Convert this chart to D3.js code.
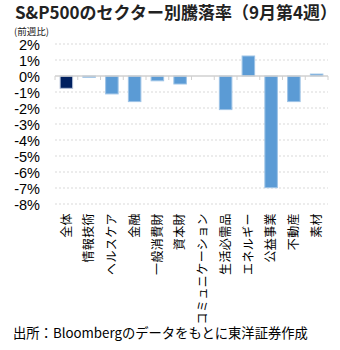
<!DOCTYPE html>
<html><head><meta charset="utf-8">
<script src="https://cdn.jsdelivr.net/npm/d3@7"></script>
<style>
html,body{margin:0;padding:0;background:#fff;}
svg{display:block;}
</style>
</head><body>
<svg id="c" width="340" height="350"></svg>
<script>
const categories = ["全体","情報技術","ヘルスケア","金融","一般消費財","資本財","コミュニケーション","生活必需品","エネルギー","公益事業","不動産","素材"];
const values = [-0.77, -0.08, -1.12, -1.6, -0.3, -0.5, 0.0, -2.1, 1.25, -6.98, -1.6, 0.12];
const tickValues = [2,1,0,-1,-2,-3,-4,-5,-6,-7,-8];
const tickLabels = ["2%","1%","0%","-1%","-2%","-3%","-4%","-5%","-6%","-7%","-8%"];
const title = "S&P500のセクター別騰落率（9月第4週）";
const subtitle = "(前週比)";
const source = "出所：Bloombergのデータをもとに東洋証券作成";

const svg = d3.select("#c");
const jp = "'Noto Sans CJK JP','Noto Sans',sans-serif";

const y = d3.scaleLinear().domain([-8, 2]).range([204, 44]);
const x = d3.scaleBand().domain(categories).range([55, 328]).paddingInner(0.45).paddingOuter(0.225);

// title
svg.append("text").attr("x", 15).attr("y", 18.5)
  .attr("font-family", jp).attr("font-weight", "bold").attr("font-size", 17)
  .attr("fill", "#222").text(title);
svg.append("text").attr("x", 14).attr("y", 34.5)
  .attr("font-family", jp).attr("font-size", 9.5)
  .attr("fill", "#222").text(subtitle);

// gridlines
svg.append("g").selectAll("line").data(tickValues.filter(v => v !== 0)).join("line")
  .attr("x1", 55).attr("x2", 328)
  .attr("y1", d => y(d)).attr("y2", d => y(d))
  .attr("stroke", "#d9d9d9").attr("stroke-width", 1).attr("stroke-dasharray", "2,2");

// y labels
const yAxis = d3.axisLeft(y).tickValues(tickValues).tickSize(0).tickPadding(0)
  .tickFormat((d, i) => tickLabels[i]);
const ya = svg.append("g").attr("transform", "translate(40,0)").call(yAxis);
ya.select(".domain").remove();
ya.selectAll("text").attr("font-family", "'Liberation Sans',Arial,sans-serif")
  .attr("font-size", 14.5).attr("fill", "#000").attr("dy", "0.4em");

// bars
svg.append("g").selectAll("rect").data(values).join("rect")
  .attr("x", (d, i) => x(categories[i]))
  .attr("width", x.bandwidth())
  .attr("y", d => y(Math.max(0, d)))
  .attr("height", d => Math.abs(y(d) - y(0)))
  .attr("fill", (d, i) => i === 0 ? "#002060" : "#5b9bd5")
  .attr("stroke", (d, i) => i === 0 ? "#b4c0d8" : "#9dc3e6")
  .attr("stroke-width", d => d === 0 ? 0 : 1);

// zero line
svg.append("line").attr("x1", 55).attr("x2", 328)
  .attr("y1", y(0)).attr("y2", y(0))
  .attr("stroke", "#d0d0d0").attr("stroke-width", 1.5);

// category ticks at band edges
const edges = categories.map(c => x(c) - x.step() * x.paddingInner() / 2);
edges.push(328);
edges[0] = 55;
svg.append("g").selectAll("line").data(edges).join("line")
  .attr("x1", d => d).attr("x2", d => d)
  .attr("y1", y(0)).attr("y2", y(0) + 4)
  .attr("stroke", "#d0d0d0").attr("stroke-width", 1);

// category labels
svg.append("g").selectAll("text").data(categories).join("text")
  .attr("transform", d => `translate(${x(d) + x.bandwidth() / 2},213) rotate(-90)`)
  .attr("text-anchor", "end").attr("dy", "0.36em")
  .attr("font-family", jp).attr("font-size", 12).attr("letter-spacing", 0.4)
  .attr("fill", "#000")
  .text(d => d);

// source
svg.append("text").attr("x", 13).attr("y", 338)
  .attr("font-family", jp).attr("font-size", 13.3).attr("fill", "#000")
  .text(source);
</script>
</body></html>
